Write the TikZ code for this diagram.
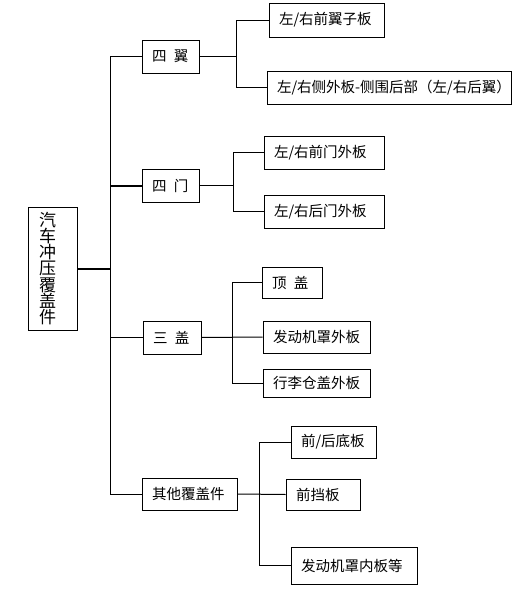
\documentclass[tikz,border=0pt]{standalone}
\usepackage{fontspec}
\setmainfont{Noto Sans CJK SC}
\begin{document}
\begin{tikzpicture}[x=1pt,y=-1pt,
  bx/.style={draw, line width=1pt, inner xsep=10pt, inner ysep=0pt, align=left,
    font=\fontsize{14.5}{16}\selectfont},
  ln/.style={line width=1pt},
  thk/.style={line width=2pt}]
\useasboundingbox (0,0) rectangle (517,589);
% root
\node[bx, inner xsep=11pt, text width=27pt, minimum height=123,
  font=\fontsize{17}{16.3}\selectfont] (root) at (52.5,268.5)
  {汽\\车\\冲\\压\\覆\\盖\\件};
% level 1
\node[bx, text width=37pt, minimum height=33] (A) at (170.5,56.5) {四\hspace{0.5em}翼};
\node[bx, text width=37pt, minimum height=33] (B) at (170.5,185.5) {四\hspace{0.5em}门};
\node[bx, text width=38pt, minimum height=33] (C) at (172,337.5) {三\hspace{0.5em}盖};
\node[bx, text width=75pt, minimum height=32] (D) at (189.5,494) {其他覆盖件};
% level 2
\node[bx, text width=95pt, minimum height=34] (A1) at (326.5,20) {左/右前翼子板};
\node[bx, text width=224pt, minimum height=33] (A2) at (389,87.5) {\mbox{左/右侧外板-侧围后部（左/右后翼）}};
\node[bx, text width=100pt, minimum height=33] (B1) at (324,152.5) {左/右前门外板};
\node[bx, text width=100pt, minimum height=33] (B2) at (324,211.5) {左/右后门外板};
\node[bx, text width=40pt, minimum height=31] (C1) at (292,282.5) {顶\hspace{0.5em}盖};
\node[bx, text width=87pt, minimum height=32] (C2) at (316.5,337) {发动机罩外板};
\node[bx, text width=87pt, minimum height=28] (C3) at (316.5,383) {行李仓盖外板};
\node[bx, text width=65pt, minimum height=32] (D1) at (333.5,442) {前/后底板};
\node[bx, text width=54pt, minimum height=31] (D2) at (323,494.5) {前挡板};
\node[bx, text width=106pt, minimum height=37] (D3) at (354,565.5) {发动机罩内板等};
% junction coordinates
\coordinate (t0) at (110,0);
\coordinate (jA) at (236,0);
\coordinate (jB) at (233,0);
\coordinate (jC) at (232,0);
\coordinate (jD) at (259,0);
% trunk
\draw[thk] (root.east) -- (root.east -| t0);
\draw[ln] (A.west) -| (t0 |- D.west) -- (D.west);
\draw[thk] (B.west) -- (B.west -| t0);
\draw[ln] (C.west) -- (C.west -| t0);
% group A
\draw[ln] (A.east) -- (A.east -| jA);
\draw[ln] (A1.west) -| (jA |- A2.west) -- (A2.west);
% group B
\draw[ln] (B.east) -- (B.east -| jB);
\draw[ln] (B1.west) -| (jB |- B2.west) -- (B2.west);
% group C
\draw[ln] (C.east) -- (C2.west);
\draw[ln] (C1.west) -| (jC |- C3.west) -- (C3.west);
% group D
\draw[ln] (D.east) -- (D2.west);
\draw[ln] (D1.west) -| (jD |- D3.west) -- (D3.west);
\end{tikzpicture}
\end{document}
